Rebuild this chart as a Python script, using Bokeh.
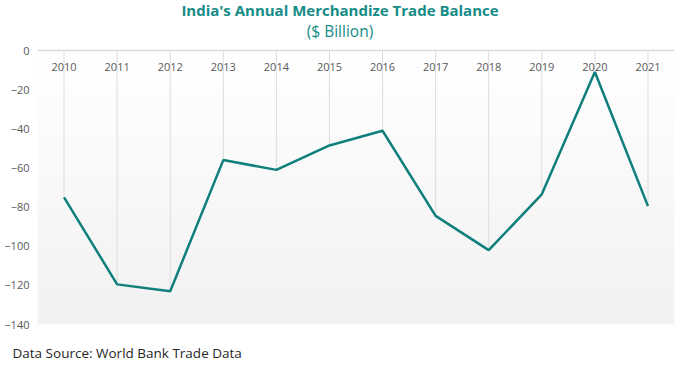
from bokeh.plotting import figure
from bokeh.models import Span, BoxAnnotation, Label, Title, FixedTicker, Range1d
from bokeh.core.properties import value
from bokeh.embed import file_html
from bokeh.resources import INLINE

# ---- data ----
years = ["2010", "2011", "2012", "2013", "2014", "2015",
         "2016", "2017", "2018", "2019", "2020", "2021"]
trade_balance = [-75.0, -119.5, -123.0, -56.0, -61.0, -48.5,
                 -41.0, -84.5, -102.0, -73.5, -11.0, -79.5]
y_ticks = [0, -20, -40, -60, -80, -100, -120, -140]
y_min, y_max = -140, 0

TEAL_LINE = "#0f7f7b"
TEAL_TEXT = "#168c87"
GREY_TXT = "#595959"
FONT = "Open Sans"

# layout (pixels)
TOP_SPACE, PLOT_H, BOTTOM_SPACE = 50, 274, 51
px_per_unit = PLOT_H / (y_max - y_min)
view_top = y_max + TOP_SPACE / px_per_unit

p = figure(frame_width=637, frame_height=TOP_SPACE + PLOT_H,
           x_range=years, y_range=Range1d(y_min, view_top),
           output_backend="svg", toolbar_location=None, title=None,
           x_axis_location=None,
           min_border_left=37, min_border_right=9,
           min_border_top=0, min_border_bottom=BOTTOM_SPACE)
p.x_range.range_padding = 0
p.outline_line_color = None
p.background_fill_color = "white"
p.border_fill_color = "white"
p.xgrid.visible = False
p.ygrid.visible = False

# gradient plot-area background (white at top to light grey at bottom)
n_bands = 35
for i in range(n_bands):
    top = y_max + (y_min - y_max) * i / n_bands
    bot = y_max + (y_min - y_max) * (i + 1) / n_bands
    g = int(round(255 - 14 * (i + 0.5) / n_bands))
    p.add_layout(BoxAnnotation(top=top, bottom=bot, fill_color=(g, g, g),
                               fill_alpha=1, line_color=None, level="underlay"))

p.add_layout(Span(location=y_max, dimension="width", line_color="#d9d9d9",
                  line_width=1.5))

# drop lines
p.segment(x0=years, y0=[y_max] * len(years), x1=years, y1=trade_balance,
          line_color="#dcdcdc", line_width=1)

# category labels inside the plot, just under the zero line
p.text(x=years, y=y_max, y_offset=16, text=years, text_align="center",
       text_baseline="middle", text_font=value(FONT),
       text_font_size="11px", text_color=GREY_TXT)

p.line(years, trade_balance, line_color=TEAL_LINE, line_width=2.5)

# y axis
ya = p.yaxis[0]
ya.ticker = FixedTicker(ticks=y_ticks)
ya.axis_line_color = None
ya.major_tick_line_color = None
ya.minor_tick_line_color = None
ya.major_tick_out = 0
ya.major_tick_in = 0
ya.major_label_standoff = 8
ya.major_label_text_font = FONT
ya.major_label_text_font_size = "11px"
ya.major_label_text_color = GREY_TXT

n = len(years)
main = Label(text="India's Annual Merchandize Trade Balance",
             x=n / 2, y=y_max, x_offset=-16, y_offset=41,
             text_align="center", text_baseline="alphabetic",
             text_font=FONT, text_font_size="15px", text_font_style="bold",
             text_color=TEAL_TEXT)
sub = Label(text="($ Billion)", x=n / 2, y=y_max, x_offset=-16, y_offset=20,
            text_align="center", text_baseline="alphabetic",
            text_font=FONT, text_font_size="15.5px", text_color=TEAL_TEXT)
p.add_layout(main)
p.add_layout(sub)

footer = Title(text="Data Source: World Bank Trade Data", align="left",
               offset=-25, standoff=34,
               text_font=FONT, text_font_size="13.5px",
               text_font_style="normal", text_color="#262626")
p.add_layout(footer, "below")

open("out.html", "w").write(file_html(p, INLINE))
